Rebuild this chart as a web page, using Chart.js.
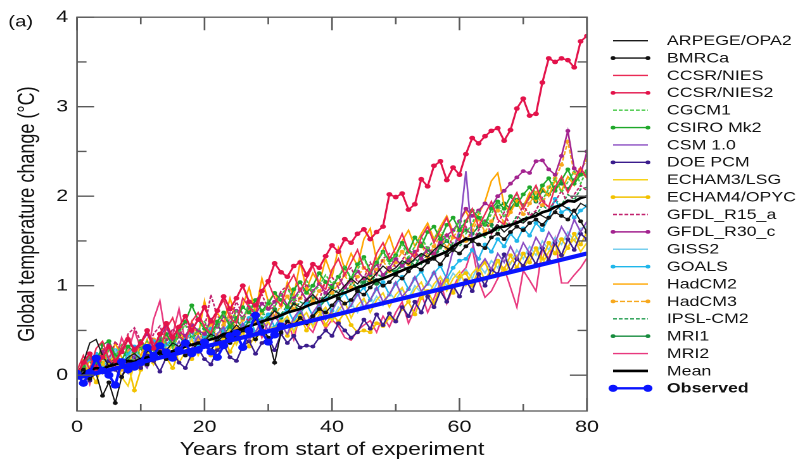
<!DOCTYPE html>
<html><head><meta charset="utf-8">
<script src="https://cdn.jsdelivr.net/npm/chart.js@4/dist/chart.umd.min.js"></script>
<style>
html,body{margin:0;padding:0;background:#fff;overflow:hidden}
#wrap{width:798px;height:462px;overflow:hidden;position:relative;background:#fff}
#c{transform:scaleX(1.26667);transform-origin:0 0;display:block}
</style></head><body><div id="wrap"><canvas id="c" width="630" height="462"></canvas></div>
<script>
// ---------- categories / ticks ----------
const years = Array.from({length:81},(_, i)=>i);
const xTickLabels = [0,20,40,60,80];
const xTickMarks = [0,10,20,30,40,50,60,70,80];
const yTickLabels = [0,1,2,3,4];
const yTickMarks = [0,0.5,1,1.5,2,2.5,3,3.5,4];

// ---------- series values (one per year, 0..80) ----------
const arpege = [0.02,0.14,0.36,0.40,0.22,0.10,0.16,0.12,0.20,0.24,
 0.18,0.26,0.30,0.22,0.28,0.36,0.32,0.40,0.34,0.30,
 0.38,0.46,0.42,0.36,0.48,0.56,0.50,0.54,0.62,0.58,
 0.64,0.72,0.66,0.70,0.80,0.76,0.84,0.90,0.82,0.88,
 0.96,0.92,1.00,1.08,1.02,1.10,1.06,1.14,1.22,1.16,
 1.20,1.28,1.24,1.30,1.36,1.32,1.40,1.46,1.42,1.38,
 1.48,1.54,1.50,1.58,1.56,1.62,1.68,1.60,1.66,1.72,
 1.70,1.76,1.82,1.78,1.74,1.84,1.90,1.86,1.82,1.92,1.88];
const bmrca = [-0.02,0.06,-0.04,0.02,-0.23,-0.08,-0.31,-0.02,0.10,0.08,
 0.16,0.12,0.20,0.26,0.18,0.24,0.30,0.22,0.28,0.36,
 0.32,0.28,0.38,0.44,0.36,0.42,0.50,0.46,0.40,0.54,
 0.42,0.14,0.48,0.60,0.56,0.64,0.58,0.66,0.74,0.70,
 0.78,0.86,0.80,0.84,0.94,0.90,0.98,1.06,1.00,1.04,
 1.12,1.08,1.16,1.22,1.18,1.26,1.30,1.24,1.34,1.40,
 1.36,1.44,1.50,1.46,1.42,1.54,1.58,1.52,1.60,1.66,
 1.62,1.70,1.74,1.68,1.76,1.82,1.78,1.74,1.84,1.72,1.60];
const ccsr = [0.05,0.22,0.06,0.30,0.38,0.18,0.10,0.32,0.44,0.26,
 0.34,0.50,0.36,0.28,0.52,0.64,0.44,0.38,0.60,0.70,
 0.54,0.46,0.72,0.84,0.64,0.58,0.86,0.76,0.68,0.94,
 1.04,0.86,0.78,1.00,1.12,0.94,1.08,1.22,1.02,0.96,
 1.18,1.30,1.12,1.26,1.40,1.20,1.14,1.36,1.48,1.30,
 1.42,1.58,1.38,1.32,1.54,1.66,1.48,1.62,1.76,1.56,
 1.50,1.72,1.86,1.66,1.80,1.94,1.74,1.68,1.92,2.04,
 1.86,2.00,2.12,1.94,1.88,2.10,2.22,2.04,2.18,2.32,2.20];
const ccsr2 = [0.00,0.14,0.24,0.08,0.20,0.32,0.16,0.26,0.40,0.28,
 0.36,0.50,0.30,0.46,0.58,0.42,0.54,0.66,0.50,0.62,
 0.76,0.60,0.72,0.88,0.74,0.86,1.00,0.82,0.78,0.94,
 1.05,1.25,1.15,1.10,1.22,1.26,1.12,1.24,1.20,1.33,
 1.45,1.38,1.52,1.48,1.58,1.63,1.52,1.60,1.66,
 2.02,1.99,2.03,1.85,1.91,2.19,2.11,2.34,2.39,2.18,2.32,2.24,
 2.47,2.65,2.59,2.67,2.73,2.76,2.62,2.74,2.98,3.09,
 2.90,2.92,3.27,3.54,3.50,3.54,3.52,3.44,3.73,3.79];
const cgcm1 = [0.00,0.12,0.22,0.08,0.16,0.28,0.20,0.34,0.24,0.14,
 0.30,0.38,0.26,0.44,0.36,0.30,0.48,0.56,0.42,0.50,
 0.60,0.46,0.54,0.68,0.58,0.72,0.62,0.80,0.70,0.64,
 0.84,0.76,0.90,0.98,0.82,0.94,1.06,0.92,1.00,1.12,
 1.02,1.10,1.22,1.08,1.18,1.30,1.16,1.26,1.38,1.24,
 1.34,1.46,1.32,1.44,1.56,1.40,1.52,1.64,1.50,1.60,
 1.72,1.58,1.70,1.84,1.68,1.80,1.92,1.76,1.90,2.02,
 1.88,1.98,2.10,1.96,2.08,2.20,2.04,2.16,2.28,2.14,2.30];
const csiro = [-0.02,0.10,0.24,0.14,0.34,0.38,0.22,0.16,0.32,0.26,
 0.38,0.30,0.20,0.36,0.46,0.34,0.52,0.60,0.78,0.62,
 0.52,0.44,0.60,0.70,0.54,0.64,0.76,0.70,0.84,0.72,
 0.80,0.92,0.84,0.76,0.96,1.04,0.92,1.00,1.14,1.04,
 0.98,1.10,1.20,1.08,1.24,1.32,1.16,1.26,1.38,1.28,
 1.34,1.48,1.38,1.54,1.44,1.60,1.66,1.52,1.68,1.76,
 1.62,1.72,1.84,1.76,1.68,1.86,1.94,1.86,2.00,1.90,
 2.02,2.10,1.98,2.12,2.20,2.06,2.18,2.30,2.14,2.24,2.28];
const csm = [0.00,-0.10,0.06,0.16,0.04,-0.02,0.18,0.10,0.02,0.22,
 0.16,0.08,0.26,0.34,0.18,0.24,0.38,0.22,0.30,0.44,
 0.32,0.26,0.46,0.54,0.36,0.42,0.58,0.40,0.48,0.62,
 0.50,0.66,0.56,0.46,0.64,0.74,0.58,0.70,0.80,0.62,
 0.72,0.86,0.70,0.78,0.92,0.76,0.84,0.98,0.82,0.90,
 1.04,0.88,0.96,1.10,0.94,1.02,1.16,0.98,1.12,1.40,
 1.62,2.28,1.50,1.20,1.30,1.18,1.36,1.26,1.44,1.30,
 1.48,1.36,1.54,1.42,1.60,1.48,1.66,1.54,1.74,1.60,1.72];
const doepcm = [0.00,0.08,-0.06,0.12,0.04,0.16,0.06,-0.02,0.14,0.20,
 0.08,0.22,0.16,0.04,0.20,0.26,0.14,0.08,0.24,0.30,
 0.18,0.12,0.28,0.34,0.20,0.16,0.32,0.38,0.24,0.36,
 0.42,0.28,0.46,0.36,0.44,0.31,0.33,0.32,0.42,0.50,
 0.44,0.58,0.50,0.42,0.48,0.62,0.52,0.68,0.56,0.69,
 0.60,0.76,0.66,0.82,0.70,0.88,0.76,0.94,0.82,1.00,
 0.88,1.06,0.94,1.13,1.00,1.18,1.13,1.35,1.16,1.30,
 1.22,1.36,1.24,1.42,1.28,1.48,1.34,1.52,1.40,1.58,1.52];
const echam3 = [0.02,-0.08,0.10,0.18,0.02,0.14,0.22,-0.02,-0.12,0.12,
 0.20,0.28,0.12,0.32,0.20,0.36,0.14,0.26,0.40,0.22,
 0.38,0.46,0.28,0.40,0.52,0.34,0.48,0.56,0.38,0.54,
 0.60,0.44,0.58,0.66,0.48,0.62,0.70,0.54,0.68,0.76,
 0.60,0.72,0.82,0.64,0.78,0.86,0.70,0.84,0.92,0.76,
 0.90,0.98,0.82,0.96,1.04,0.88,1.02,1.10,0.94,1.08,
 1.16,1.00,1.14,1.22,1.06,1.20,1.28,1.12,1.26,1.34,
 1.18,1.32,1.40,1.24,1.38,1.46,1.30,1.44,1.52,1.38,1.48];
const echam4 = [0.00,0.12,0.04,-0.08,0.14,0.02,0.18,0.08,0.12,-0.17,
 0.06,0.22,0.14,0.28,0.20,0.08,0.26,0.34,0.18,0.30,
 0.38,0.22,0.32,0.42,0.26,0.40,0.48,0.32,0.46,0.54,
 0.38,0.52,0.60,0.44,0.58,0.66,0.50,0.64,0.72,0.56,
 0.68,0.60,0.70,0.56,0.48,0.50,0.48,0.58,0.55,0.64,
 0.61,0.74,0.82,0.68,0.86,0.94,0.80,0.98,1.06,0.92,
 1.10,1.14,1.00,1.18,1.26,1.10,1.28,1.18,1.34,1.20,
 1.36,1.26,1.42,1.30,1.48,1.36,1.52,1.42,1.58,1.46,1.60];
const gfdlR15 = [0.00,0.16,0.24,0.08,0.32,0.18,0.38,0.26,0.46,0.53,
 0.38,0.28,0.46,0.55,0.36,0.52,0.42,0.60,0.46,0.64,
 0.52,0.90,0.66,0.60,0.62,0.82,0.68,0.60,0.84,0.90,
 0.74,0.76,0.94,1.00,0.82,0.86,1.02,0.90,0.84,1.06,
 1.10,0.98,1.14,1.20,1.04,1.08,1.26,1.12,1.30,1.36,
 1.20,1.28,1.42,1.30,1.48,1.36,1.34,1.52,1.58,1.44,
 1.54,1.66,1.50,1.62,1.74,1.58,1.70,1.82,1.66,1.74,
 1.90,1.78,1.84,1.98,1.86,1.94,2.06,1.92,2.02,2.12,2.06];
const gfdlR30 = [0.00,0.12,0.20,0.06,0.26,0.34,0.18,0.28,0.40,0.30,
 0.36,0.46,0.32,0.42,0.54,0.38,0.48,0.44,0.56,0.50,
 0.46,0.62,0.54,0.66,0.58,0.72,0.64,0.76,0.68,0.80,
 0.74,0.82,0.90,0.78,0.86,0.96,0.84,0.94,1.02,0.92,
 1.00,1.10,0.98,1.06,1.16,1.08,1.14,1.24,1.12,1.20,
 1.30,1.22,1.28,1.38,1.30,1.42,1.36,1.48,1.56,1.62,
 1.72,1.86,1.78,1.84,1.92,1.88,2.00,2.06,2.14,2.21,
 2.28,2.26,2.39,2.40,2.30,2.24,2.45,2.73,2.31,2.24,2.50];
const giss2 = [0.00,0.14,0.04,0.22,0.12,0.18,0.28,0.10,0.20,0.30,
 0.16,0.26,0.34,0.20,0.28,0.38,0.24,0.34,0.42,0.28,
 0.36,0.46,0.32,0.42,0.50,0.36,0.48,0.56,0.42,0.52,
 0.60,0.46,0.56,0.64,0.50,0.62,0.70,0.56,0.66,0.74,
 0.62,0.76,0.68,0.80,0.70,0.84,0.76,0.88,0.78,0.92,
 0.84,0.96,0.86,1.00,0.92,1.04,0.96,1.10,1.00,1.14,
 1.06,1.18,1.08,1.24,1.14,1.28,1.20,1.34,1.24,1.40,
 1.30,1.44,1.34,1.50,1.40,1.54,1.46,1.60,1.50,1.64,1.66];
const goals = [0.00,0.10,0.18,0.24,0.08,0.20,0.28,0.12,0.24,0.32,
 0.18,0.30,0.38,0.22,0.34,0.42,0.28,0.40,0.48,0.32,
 0.44,0.52,0.38,0.50,0.58,0.44,0.56,0.64,0.48,0.62,
 0.68,0.54,0.66,0.74,0.60,0.72,0.80,0.66,0.78,0.86,
 0.72,0.84,0.92,0.78,0.90,0.98,0.84,0.96,1.04,0.90,
 1.02,1.10,0.96,1.08,1.16,1.02,1.14,1.22,1.08,1.20,
 1.28,1.30,1.40,1.30,1.46,1.38,1.52,1.44,1.58,1.50,
 1.64,1.56,1.70,1.62,1.76,1.97,1.82,1.86,1.76,1.84,1.89];
const hadcm2 = [0.05,0.00,0.18,0.06,0.28,0.12,0.36,0.20,0.10,0.32,
 0.22,0.40,0.16,0.46,0.30,0.24,0.52,0.36,0.60,0.44,
 0.83,0.50,0.70,0.58,0.86,0.62,0.78,0.98,0.70,1.08,
 0.82,0.92,0.76,1.04,0.88,1.26,0.96,1.14,1.02,1.30,
 1.10,1.42,1.18,1.36,1.22,1.52,1.64,1.28,1.40,1.56,
 1.34,1.50,1.62,1.44,1.58,1.70,1.52,1.66,1.78,1.60,
 1.72,1.84,1.66,1.80,1.94,2.17,2.26,1.90,1.82,1.96,
 1.88,2.04,1.94,2.10,2.00,2.18,2.06,2.22,2.12,2.28,2.20];
const hadcm3 = [0.00,0.16,0.08,0.24,0.12,0.30,0.20,0.06,0.26,0.18,
 0.34,0.24,0.40,0.30,0.46,0.36,0.28,0.44,0.52,0.40,
 0.48,0.58,0.44,0.56,0.66,0.52,0.62,0.72,0.60,0.70,
 0.80,0.66,0.78,0.88,0.74,0.86,0.96,0.82,0.94,1.04,
 0.92,1.02,1.12,0.98,1.10,1.20,1.06,1.18,1.28,1.16,
 1.26,1.38,1.24,1.36,1.46,1.32,1.44,1.56,1.42,1.54,
 1.64,1.50,1.62,1.74,1.60,1.72,1.84,1.70,1.82,1.94,
 1.80,1.92,2.04,1.90,2.10,2.20,2.35,2.61,2.26,2.30,2.40];
const ipsl = [0.00,0.08,0.16,0.02,0.20,0.12,0.24,0.30,0.18,0.22,
 0.30,0.20,0.34,0.28,0.40,0.32,0.44,0.36,0.40,0.48,
 0.42,0.50,0.46,0.56,0.50,0.60,0.54,0.64,0.60,0.70,
 0.64,0.72,0.68,0.78,0.72,0.82,0.78,0.88,0.82,0.92,
 0.88,0.96,0.92,1.02,0.98,1.08,1.02,1.14,1.08,1.18,
 1.14,1.22,1.18,1.30,1.24,1.36,1.30,1.42,1.36,1.48,
 1.44,1.52,1.48,1.60,1.54,1.66,1.60,1.72,1.66,1.78,
 1.72,1.82,1.78,1.90,1.84,1.96,1.90,2.02,1.96,2.08,2.10];
const mri1 = [0.00,0.10,0.04,0.16,0.24,0.12,0.20,0.28,0.18,0.26,
 0.32,0.22,0.30,0.38,0.28,0.36,0.44,0.34,0.42,0.50,
 0.40,0.48,0.56,0.46,0.54,0.62,0.52,0.60,0.68,0.58,
 0.66,0.74,0.64,0.72,0.80,0.70,0.78,0.86,0.76,0.84,
 0.92,0.86,0.98,1.06,0.96,1.04,1.12,1.02,1.10,1.18,
 1.16,1.24,1.30,1.22,1.34,1.40,1.32,1.44,1.50,1.42,
 1.56,1.62,1.58,1.66,1.72,1.68,1.88,1.92,1.86,1.96,
 1.90,2.00,1.94,2.06,2.02,2.10,2.14,2.08,2.18,2.26,2.24];
const mri2 = [0.00,0.12,-0.10,0.20,0.05,0.30,0.14,0.42,0.25,0.50,
 0.30,0.18,0.62,0.83,0.40,0.45,0.74,0.36,0.52,0.30,
 0.48,0.62,0.36,0.55,0.70,0.40,0.58,0.46,0.66,0.42,
 0.60,0.74,0.50,0.62,0.40,0.70,0.56,0.48,0.66,0.52,
 0.62,0.55,0.42,0.39,0.50,0.56,0.61,0.48,0.66,0.54,
 0.70,0.82,0.58,0.74,0.92,0.70,0.86,1.04,0.80,0.98,
 1.12,1.20,1.42,1.06,0.87,0.94,1.08,1.20,0.98,0.76,
 1.17,1.06,0.94,1.42,1.30,1.53,1.03,1.03,1.12,1.20,1.31];
const meanT = [-0.03,0.02,0.06,0.08,0.07,0.10,0.12,0.14,0.16,0.15,
 0.18,0.20,0.22,0.25,0.24,0.27,0.29,0.32,0.34,0.36,
 0.38,0.40,0.42,0.46,0.47,0.50,0.52,0.55,0.57,0.60,
 0.62,0.64,0.67,0.70,0.72,0.74,0.77,0.80,0.82,0.84,
 0.87,0.90,0.92,0.95,0.98,1.00,1.03,1.06,1.08,1.11,
 1.14,1.17,1.20,1.22,1.26,1.29,1.32,1.35,1.38,1.44,
 1.48,1.52,1.52,1.55,1.58,1.60,1.65,1.66,1.68,1.70,
 1.74,1.76,1.78,1.82,1.84,1.88,1.90,1.95,1.94,1.98,2.00];
// observed annual values (years 0..32) and its straight trend (end points)
const observed = [0.02,-0.09,0.03,0.19,0.05,0.00,-0.11,0.15,0.06,0.09,
 0.14,0.31,0.22,0.33,0.26,0.19,0.28,0.36,0.24,0.28,
 0.37,0.26,0.20,0.33,0.44,0.47,0.31,0.50,0.67,0.48,
 0.37,0.45,0.55];
const trendYears = [0,80];
const trendValues = [-0.03,1.36];

// ---------- styling ----------
const FONT = '"Liberation Sans", Arial, Helvetica, sans-serif';
function series(label, data, color, opt={}) {
  return Object.assign({label, data, borderColor:color, backgroundColor:color,
    borderWidth:1.3, pointRadius:0, pointBorderWidth:0, tension:0, order:10}, opt);
}
const DOT = {pointRadius:1.9};
const datasets = [
  series('ARPEGE/OPA2', arpege, '#1a1a1a', {borderWidth:1.1}),
  series('BMRCa', bmrca, '#111111', Object.assign({borderWidth:1.1}, DOT)),
  series('CCSR/NIES', ccsr, '#ea2a55'),
  series('CCSR/NIES2', ccsr2, '#e3124a', {pointRadius:2.3, borderWidth:1.6, order:5}),
  series('CGCM1', cgcm1, '#45c845', {borderDash:[3,1.5]}),
  series('CSIRO Mk2', csiro, '#1fa82a', DOT),
  series('CSM 1.0', csm, '#8a4cc2'),
  series('DOE PCM', doepcm, '#3a1c8c', DOT),
  series('ECHAM3/LSG', echam3, '#f7d31a'),
  series('ECHAM4/OPYC', echam4, '#f2c200', DOT),
  series('GFDL_R15_a', gfdlR15, '#c2226e', {borderDash:[3,1.5]}),
  series('GFDL_R30_c', gfdlR30, '#a3238f', DOT),
  series('GISS2', giss2, '#78cfee'),
  series('GOALS', goals, '#1fb6ea', DOT),
  series('HadCM2', hadcm2, '#ffa600'),
  series('HadCM3', hadcm3, '#f7a81e', Object.assign({borderDash:[4,1.5]}, DOT)),
  series('IPSL-CM2', ipsl, '#1f9a4c', {borderDash:[3,1.5]}),
  series('MRI1', mri1, '#178c3e', DOT),
  series('MRI2', mri2, '#e8397f'),
  series('Mean', meanT, '#000000', {borderWidth:2.6, order:3}),
  series('Observed', observed, '#0a14ff', {borderWidth:2.2, pointRadius:3.6, order:1}),
  series('', trendYears.map((x,i)=>({x, y:trendValues[i]})), '#0a14ff', {borderWidth:4.2, order:2, noLegend:true})
];

// ---------- plugins: inward ticks + frame, side legend, panel label ----------
const frameTicks = {
  id:'frameTicks',
  afterDatasetsDraw(chart){
    const {ctx, chartArea:a, scales:{x, y}} = chart;
    ctx.save();
    ctx.strokeStyle = '#5a5a5a'; ctx.lineWidth = 1.3;
    ctx.strokeRect(a.left, a.top, a.right - a.left, a.bottom - a.top);
    ctx.beginPath();
    xTickMarks.forEach(v => {
      const px = x.getPixelForValue(v), len = xTickLabels.includes(v) ? 13 : 7;
      ctx.moveTo(px, a.bottom); ctx.lineTo(px, a.bottom - len);
      ctx.moveTo(px, a.top); ctx.lineTo(px, a.top + len);
    });
    yTickMarks.forEach(v => {
      const py = y.getPixelForValue(v), len = yTickLabels.includes(v) ? 13.5 : 7.5;
      ctx.moveTo(a.left, py); ctx.lineTo(a.left + len, py);
      ctx.moveTo(a.right, py); ctx.lineTo(a.right - len, py);
    });
    ctx.stroke();
    ctx.restore();
  }
};
const sideLegend = {
  id:'sideLegend',
  afterDraw(chart){
    const ctx = chart.ctx;
    const items = chart.data.datasets.filter(d => !d.noLegend);
    items.forEach((d, i) => {
      const yy = 40.7 + i * 17.38, x0 = 484, x1 = 511.5;
      ctx.save();
      ctx.strokeStyle = d.borderColor; ctx.fillStyle = d.borderColor;
      ctx.lineWidth = d.label === 'Observed' ? 2.4 : (d.label === 'Mean' ? 2.6 : 1.4);
      ctx.setLineDash(d.borderDash || []);
      ctx.beginPath(); ctx.moveTo(x0, yy); ctx.lineTo(x1, yy); ctx.stroke();
      ctx.setLineDash([]);
      if (d.pointRadius > 0) {
        const r = d.label === 'Observed' ? 3.6 : 1.9;
        [x0, x1].forEach(px => { ctx.beginPath(); ctx.arc(px, yy, r, 0, Math.PI * 2); ctx.fill(); });
      }
      ctx.fillStyle = '#111';
      ctx.font = (d.label === 'Observed' ? 'bold ' : '') + '14px ' + FONT;
      ctx.textBaseline = 'middle'; ctx.textAlign = 'left';
      ctx.fillText(d.label, 526.5, yy + 0.5);
      ctx.restore();
    });
    ctx.save();
    ctx.fillStyle = '#111'; ctx.font = '16px ' + FONT;
    ctx.textBaseline = 'middle'; ctx.textAlign = 'left';
    ctx.fillText('(a)', 6.5, 22);
    ctx.restore();
  }
};

new Chart(document.getElementById('c'), {
  type:'line',
  data:{labels:years, datasets},
  options:{
    responsive:false, animation:false, devicePixelRatio:2, events:[],
    layout:{padding:{left:0, right:166.6, top:15, bottom:0}},
    plugins:{legend:{display:false}, tooltip:{enabled:false}},
    scales:{
      x:{type:'linear', min:0, max:80,
        afterBuildTicks:s => { s.ticks = xTickLabels.map(v => ({value:v})); },
        afterFit:s => { s.height = 51; },
        grid:{display:false, drawTicks:false}, border:{display:false},
        ticks:{font:{size:17, family:FONT}, color:'#111', padding:6, maxRotation:0, autoSkip:false},
        title:{display:true, text:'Years from start of experiment', color:'#111',
          font:{size:18, family:FONT}, padding:{top:0, bottom:1}}},
      y:{type:'linear', min:-0.4, max:4,
        afterBuildTicks:s => { s.ticks = yTickLabels.map(v => ({value:v})); },
        afterFit:s => { s.width = 60.8; },
        grid:{display:false, drawTicks:false}, border:{display:false},
        ticks:{font:{size:17, family:FONT}, color:'#111', padding:7},
        title:{display:true, text:'Global temperature change (°C)', color:'#111',
          font:{size:18, family:FONT}, padding:{top:11, bottom:0}}}
    }
  },
  plugins:[frameTicks, sideLegend]
});
</script></body></html>
